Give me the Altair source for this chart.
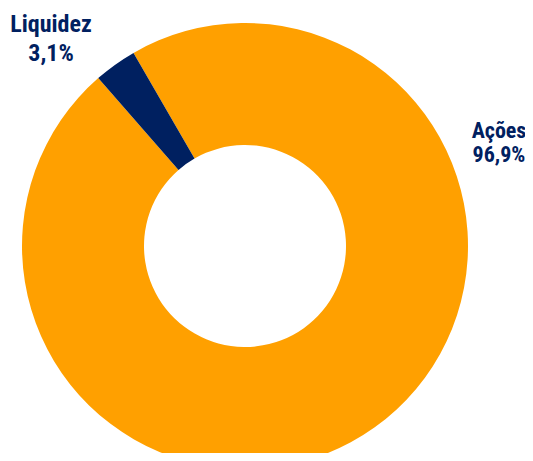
import math
import altair as alt
import pandas as pd

categories = ["Ações", "Liquidez"]
values = [96.9, 3.1]
colors = ["#FFA000", "#002060"]

labels = [f"{c}\n{str(v).replace('.', ',')}%" for c, v in zip(categories, values)]
df = pd.DataFrame({"cat": categories, "val": values, "idx": list(range(len(categories))), "label": labels})

start = -30.0 * math.pi / 180.0
base = alt.Chart(df)

arc = base.mark_arc(outerRadius=223, innerRadius=101, stroke=None).encode(
    theta=alt.Theta("val:Q", stack=True, scale=alt.Scale(range=[start, start + 2 * math.pi])),
    color=alt.Color("cat:N", scale=alt.Scale(domain=categories, range=colors), legend=None),
    order=alt.Order("idx:Q"),
    x=alt.value(237),
    y=alt.value(238),
)

font = "Liberation Sans Narrow, Arial Narrow, Roboto Condensed, sans-serif"

lab_liq = base.transform_filter(alt.datum.cat == "Liquidez").mark_text(
    font=font, fontSize=24, fontWeight="bold", color="#002060", lineBreak="\n",
    lineHeight=29, align="center", baseline="alphabetic"
).encode(text="label:N", x=alt.value(43), y=alt.value(24))

lab_acoes = base.transform_filter(alt.datum.cat == "Ações").mark_text(
    font=font, fontSize=22, fontWeight="bold", color="#002060", lineBreak="\n",
    lineHeight=24, align="center", baseline="alphabetic"
).encode(text="label:N", x=alt.value(491), y=alt.value(130))

chart = alt.layer(arc, lab_liq, lab_acoes).properties(
    width=517, height=445, padding=0, autosize=alt.AutoSizeParams(type="none")
).configure_view(stroke=None)

chart.save("out.html", embed_options={"renderer": "svg", "actions": False})
